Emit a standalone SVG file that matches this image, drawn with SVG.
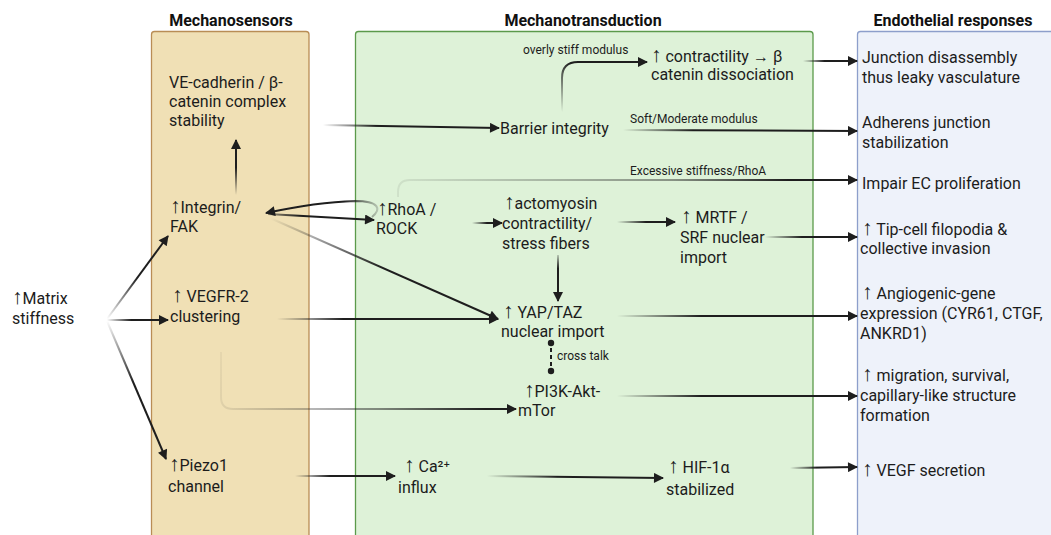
<svg xmlns="http://www.w3.org/2000/svg" width="1051" height="535" viewBox="0 0 1051 535">
<style>
.t{font-family:Roboto,"Liberation Sans","DejaVu Sans",sans-serif;font-size:16px;fill:#1c1c1c}
.s{font-family:Roboto,"Liberation Sans","DejaVu Sans",sans-serif;font-size:12px;fill:#1c1c1c}
.h{font-family:Roboto,"Liberation Sans","DejaVu Sans",sans-serif;font-size:16px;font-weight:bold;fill:#111;text-anchor:middle}
.a{font-family:"Liberation Sans","DejaVu Sans",sans-serif;font-size:21px}
.c{fill:none;stroke-width:2}
</style>
<defs>
<marker id="ah" viewBox="0 0 10 10" refX="9" refY="5" markerWidth="11" markerHeight="10" markerUnits="userSpaceOnUse" orient="auto"><path d="M0,0 L10,5 L0,10 z" fill="#1e1e1e"/></marker>
<linearGradient id="g1" gradientUnits="userSpaceOnUse" x1="107" y1="319" x2="168" y2="236"><stop offset="0" stop-color="#1e1e1e" stop-opacity="0"/><stop offset="0.5" stop-color="#1e1e1e"/></linearGradient>
<linearGradient id="g2" gradientUnits="userSpaceOnUse" x1="107" y1="320" x2="168" y2="320"><stop offset="0" stop-color="#1e1e1e" stop-opacity="0"/><stop offset="0.4" stop-color="#1e1e1e"/></linearGradient>
<linearGradient id="g3" gradientUnits="userSpaceOnUse" x1="107" y1="321" x2="166" y2="459"><stop offset="0" stop-color="#1e1e1e" stop-opacity="0"/><stop offset="0.45" stop-color="#1e1e1e"/></linearGradient>
<linearGradient id="g4" gradientUnits="userSpaceOnUse" x1="236" y1="195" x2="236" y2="140"><stop offset="0" stop-color="#1e1e1e" stop-opacity="0"/><stop offset="0.5" stop-color="#1e1e1e"/></linearGradient>
<linearGradient id="g5" gradientUnits="userSpaceOnUse" x1="323" y1="125" x2="499" y2="128"><stop offset="0" stop-color="#1e1e1e" stop-opacity="0"/><stop offset="0.3" stop-color="#1e1e1e"/></linearGradient>
<linearGradient id="g6" gradientUnits="userSpaceOnUse" x1="562" y1="112" x2="600" y2="62"><stop offset="0" stop-color="#1e1e1e" stop-opacity="0"/><stop offset="0.7" stop-color="#1e1e1e"/></linearGradient>
<linearGradient id="g7" gradientUnits="userSpaceOnUse" x1="803" y1="61" x2="857" y2="61"><stop offset="0" stop-color="#1e1e1e" stop-opacity="0"/><stop offset="0.4" stop-color="#1e1e1e"/></linearGradient>
<linearGradient id="g8" gradientUnits="userSpaceOnUse" x1="623" y1="130" x2="857" y2="131"><stop offset="0" stop-color="#1e1e1e" stop-opacity="0"/><stop offset="0.3" stop-color="#1e1e1e"/></linearGradient>
<linearGradient id="g9" gradientUnits="userSpaceOnUse" x1="398" y1="196" x2="857" y2="180"><stop offset="0" stop-color="#1e1e1e" stop-opacity="0.08"/><stop offset="0.6" stop-color="#1e1e1e" stop-opacity="0.45"/><stop offset="0.85" stop-color="#1e1e1e"/></linearGradient>
<linearGradient id="g10" gradientUnits="userSpaceOnUse" x1="268" y1="214" x2="374" y2="220"><stop offset="0" stop-color="#1e1e1e" stop-opacity="0.4"/><stop offset="0.3" stop-color="#1e1e1e"/></linearGradient>
<linearGradient id="g11" gradientUnits="userSpaceOnUse" x1="378" y1="210" x2="266" y2="213"><stop offset="0" stop-color="#1e1e1e" stop-opacity="0.2"/><stop offset="0.3" stop-color="#1e1e1e"/></linearGradient>
<linearGradient id="g12" gradientUnits="userSpaceOnUse" x1="270" y1="218" x2="498" y2="319"><stop offset="0" stop-color="#1e1e1e" stop-opacity="0"/><stop offset="0.5" stop-color="#1e1e1e"/></linearGradient>
<linearGradient id="g13" gradientUnits="userSpaceOnUse" x1="472" y1="223" x2="502" y2="223"><stop offset="0" stop-color="#1e1e1e" stop-opacity="0"/><stop offset="0.5" stop-color="#1e1e1e"/></linearGradient>
<linearGradient id="g14" gradientUnits="userSpaceOnUse" x1="617" y1="222" x2="675" y2="222"><stop offset="0" stop-color="#1e1e1e" stop-opacity="0"/><stop offset="0.5" stop-color="#1e1e1e"/></linearGradient>
<linearGradient id="g15" gradientUnits="userSpaceOnUse" x1="765" y1="237" x2="857" y2="237"><stop offset="0" stop-color="#1e1e1e" stop-opacity="0"/><stop offset="0.4" stop-color="#1e1e1e"/></linearGradient>
<linearGradient id="g16" gradientUnits="userSpaceOnUse" x1="558" y1="255" x2="558" y2="300"><stop offset="0" stop-color="#1e1e1e" stop-opacity="0.2"/><stop offset="0.3" stop-color="#1e1e1e"/></linearGradient>
<linearGradient id="g17" gradientUnits="userSpaceOnUse" x1="277" y1="319" x2="498" y2="319"><stop offset="0" stop-color="#1e1e1e" stop-opacity="0"/><stop offset="0.3" stop-color="#1e1e1e"/></linearGradient>
<linearGradient id="g18" gradientUnits="userSpaceOnUse" x1="221" y1="352" x2="516" y2="409"><stop offset="0" stop-color="#1e1e1e" stop-opacity="0.05"/><stop offset="0.55" stop-color="#1e1e1e" stop-opacity="0.5"/><stop offset="0.9" stop-color="#1e1e1e"/></linearGradient>
<linearGradient id="g19" gradientUnits="userSpaceOnUse" x1="617" y1="316" x2="857" y2="316"><stop offset="0" stop-color="#1e1e1e" stop-opacity="0"/><stop offset="0.35" stop-color="#1e1e1e"/></linearGradient>
<linearGradient id="g21" gradientUnits="userSpaceOnUse" x1="617" y1="396" x2="857" y2="396"><stop offset="0" stop-color="#1e1e1e" stop-opacity="0"/><stop offset="0.35" stop-color="#1e1e1e"/></linearGradient>
<linearGradient id="g22" gradientUnits="userSpaceOnUse" x1="295" y1="476" x2="395" y2="476"><stop offset="0" stop-color="#1e1e1e" stop-opacity="0"/><stop offset="0.35" stop-color="#1e1e1e"/></linearGradient>
<linearGradient id="g23" gradientUnits="userSpaceOnUse" x1="487" y1="476" x2="663" y2="478"><stop offset="0" stop-color="#1e1e1e" stop-opacity="0"/><stop offset="0.4" stop-color="#1e1e1e"/></linearGradient>
<linearGradient id="g24" gradientUnits="userSpaceOnUse" x1="790" y1="468" x2="857" y2="467"><stop offset="0" stop-color="#1e1e1e" stop-opacity="0"/><stop offset="0.4" stop-color="#1e1e1e"/></linearGradient>
</defs>
<rect width="1051" height="535" fill="#fff"/>

<g id="panels">
<rect x="151.5" y="31.5" width="157.5" height="520" rx="3" fill="#f0e0b5" stroke="#b98d55" stroke-width="1.3"/>
<rect x="355.5" y="31.5" width="457.5" height="520" rx="3" fill="#def2d8" stroke="#5b9a4b" stroke-width="1.3"/>
<rect x="857.5" y="31.5" width="200" height="520" rx="3" fill="#eef2fa" stroke="#8d9fcb" stroke-width="1.3"/>
<text class="h" x="231" y="26">Mechanosensors</text>
<text class="h" x="583" y="26">Mechanotransduction</text>
<text class="h" x="953" y="26">Endothelial responses</text>
</g>

<g id="connectors">
<path class="c" stroke="url(#g1)" d="M107 319 L168 236" marker-end="url(#ah)"/>
<path class="c" stroke="url(#g2)" d="M107 320 L168 320" marker-end="url(#ah)"/>
<path class="c" stroke="url(#g3)" d="M107 321 L166 459" marker-end="url(#ah)"/>
<path class="c" stroke="url(#g4)" d="M236 195 L236 140" marker-end="url(#ah)"/>
<path class="c" stroke="url(#g5)" d="M323 125 L499 128" marker-end="url(#ah)"/>
<path class="c" stroke="url(#g6)" d="M562 112 L562 78 Q562 62 578 62 L647 62" marker-end="url(#ah)"/>
<path class="c" stroke="url(#g7)" d="M803 61 L857 61" marker-end="url(#ah)"/>
<path class="c" stroke="url(#g8)" d="M623 130 L857 131" marker-end="url(#ah)"/>
<path class="c" stroke="url(#g9)" stroke-width="1.6" d="M398 197 L398 192 Q398 180 410 180 L857 180" marker-end="url(#ah)"/>
<path class="c" stroke="url(#g10)" d="M268 214 L374 220" marker-end="url(#ah)"/>
<path class="c" stroke="url(#g11)" d="M372 217 C382 209 379 201 355 201 C322 202 294 207 266 213" marker-end="url(#ah)"/>
<path class="c" stroke="url(#g12)" d="M270 218 L498 319" marker-end="url(#ah)"/>
<path class="c" stroke="url(#g13)" d="M472 223 L502 223" marker-end="url(#ah)"/>
<path class="c" stroke="url(#g14)" d="M617 222 L675 222" marker-end="url(#ah)"/>
<path class="c" stroke="url(#g15)" d="M765 237 L857 237" marker-end="url(#ah)"/>
<path class="c" stroke="url(#g16)" d="M558 255 L558 301" marker-end="url(#ah)"/>
<path class="c" stroke="url(#g17)" d="M277 319 L498 319" marker-end="url(#ah)"/>
<path class="c" stroke="url(#g18)" stroke-width="1.6" d="M221 352 L221 397 Q221 409 233 409 L516 409" marker-end="url(#ah)"/>
<path class="c" stroke="url(#g19)" d="M617 316 L857 316" marker-end="url(#ah)"/>
<path class="c" stroke="url(#g21)" d="M617 396 L857 396" marker-end="url(#ah)"/>
<path class="c" stroke="url(#g22)" d="M295 476 L395 476" marker-end="url(#ah)"/>
<path class="c" stroke="url(#g23)" d="M487 476 L663 478" marker-end="url(#ah)"/>
<path class="c" stroke="url(#g24)" d="M790 468 L857 467" marker-end="url(#ah)"/>
<g id="crosstalk">
<circle cx="551" cy="343" r="3.2" fill="#1e1e1e"/>
<circle cx="551" cy="371" r="3.2" fill="#1e1e1e"/>
<line x1="551" y1="348" x2="551" y2="367" stroke="#1e1e1e" stroke-width="2" stroke-dasharray="4 3"/>
</g>
<text class="s" x="523" y="54">overly stiff modulus</text>
<text class="s" x="630" y="123">Soft/Moderate modulus</text>
<text class="s" x="630" y="175">Excessive stiffness/RhoA</text>
<text class="s" x="557" y="360">cross talk</text>
</g>

<g id="n-matrix"><text class="t" x="12" y="304"><tspan class="a">↑</tspan>Matrix</text><text class="t" x="12" y="324">stiffness</text></g>
<g id="n-vecad"><text class="t" x="169" y="88">VE-cadherin / β-</text><text class="t" x="169" y="107">catenin complex</text><text class="t" x="169" y="126">stability</text></g>
<g id="n-integrin"><text class="t" x="170" y="213"><tspan class="a">↑</tspan>Integrin/</text><text class="t" x="170" y="232">FAK</text></g>
<g id="n-vegfr"><text class="t" x="172" y="302"><tspan class="a">↑</tspan>  VEGFR-2</text><text class="t" x="170" y="322">clustering</text></g>
<g id="n-piezo"><text class="t" x="169" y="471"><tspan class="a">↑</tspan>Piezo1</text><text class="t" x="168" y="492">channel</text></g>
<g id="n-barrier"><text class="t" x="500" y="134">Barrier integrity</text></g>
<g id="n-contract"><text class="t" x="651" y="62"><tspan class="a">↑</tspan> contractility → β</text><text class="t" x="651" y="80">catenin dissociation</text></g>
<g id="n-rhoa"><text class="t" x="377" y="215"><tspan class="a">↑</tspan>RhoA /</text><text class="t" x="376" y="234">ROCK</text></g>
<g id="n-acto"><text class="t" x="504" y="209"><tspan class="a">↑</tspan>actomyosin</text><text class="t" x="502" y="229">contractility/</text><text class="t" x="502" y="249">stress fibers</text></g>
<g id="n-mrtf"><text class="t" x="681" y="223"><tspan class="a">↑</tspan>  MRTF /</text><text class="t" x="680" y="243">SRF nuclear</text><text class="t" x="680" y="263">import</text></g>
<g id="n-yap"><text class="t" x="503" y="318"><tspan class="a">↑</tspan>  YAP/TAZ</text><text class="t" x="501" y="337">nuclear import</text></g>
<g id="n-pi3k"><text class="t" x="524" y="397"><tspan class="a">↑</tspan>PI3K-Akt-</text><text class="t" x="518" y="416">mTor</text></g>
<g id="n-ca"><text class="t" x="404" y="472"><tspan class="a">↑</tspan>  Ca²⁺</text><text class="t" x="398" y="493">influx</text></g>
<g id="n-hif"><text class="t" x="668" y="473"><tspan class="a">↑</tspan>  HIF-1α</text><text class="t" x="666" y="495">stabilized</text></g>
<g id="n-junction"><text class="t" x="862" y="63">Junction disassembly</text><text class="t" x="862" y="83">thus leaky vasculature</text></g>
<g id="n-adherens"><text class="t" x="862" y="128">Adherens junction</text><text class="t" x="862" y="148">stabilization</text></g>
<g id="n-impair"><text class="t" x="862" y="189">Impair EC proliferation</text></g>
<g id="n-tip"><text class="t" x="862" y="235"><tspan class="a">↑</tspan>  Tip-cell filopodia &amp;</text><text class="t" x="860" y="254">collective invasion</text></g>
<g id="n-angio"><text class="t" x="862" y="299"><tspan class="a">↑</tspan>  Angiogenic-gene</text><text class="t" x="860" y="319">expression (CYR61, CTGF,</text><text class="t" x="860" y="339">ANKRD1)</text></g>
<g id="n-migr"><text class="t" x="862" y="381"><tspan class="a">↑</tspan>  migration, survival,</text><text class="t" x="860" y="401">capillary-like structure</text><text class="t" x="860" y="421">formation</text></g>
<g id="n-vegf"><text class="t" x="862" y="476"><tspan class="a">↑</tspan>  VEGF secretion</text></g>
</svg>
